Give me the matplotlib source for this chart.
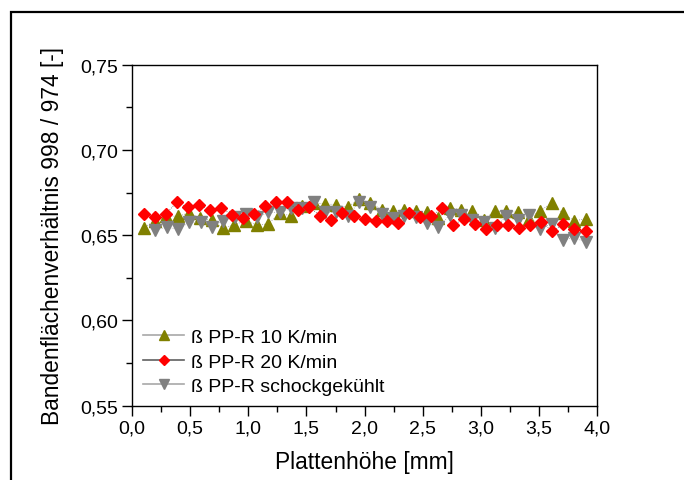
import numpy as np
import matplotlib
matplotlib.use("Agg")
from matplotlib import pyplot as plt
from matplotlib.lines import Line2D
from matplotlib.patches import Rectangle
from matplotlib.ticker import MultipleLocator, FuncFormatter

plt.rcParams['font.family'] = ['Liberation Sans', 'DejaVu Sans']

# data
x_10k = np.linspace(0.1, 3.9, 40)
y_10k = [0.6542, 0.6585, 0.6614, 0.6610, 0.6630, 0.6600, 0.6589, 0.6540, 0.6562, 0.6585,
         0.6560, 0.6566, 0.6628, 0.6614, 0.6673, 0.6689, 0.6683, 0.6679, 0.6663, 0.6712,
         0.6689, 0.6650, 0.6640, 0.6650, 0.6640, 0.6634, 0.6600, 0.6659, 0.6650, 0.6640,
         0.6591, 0.6640, 0.6640, 0.6634, 0.6595, 0.6644, 0.6687, 0.6628, 0.6585, 0.6595]

x_20k = np.linspace(0.1, 3.9, 41)
y_20k = [0.6624, 0.6605, 0.6624, 0.6693, 0.6663, 0.6679, 0.6648, 0.6659, 0.6620, 0.6599,
         0.6624, 0.6673, 0.6693, 0.6693, 0.6648, 0.6663, 0.6614, 0.6591, 0.6628, 0.6610,
         0.6595, 0.6585, 0.6585, 0.6571, 0.6628, 0.6605, 0.6610, 0.6659, 0.6560, 0.6595,
         0.6566, 0.6536, 0.6562, 0.6562, 0.6542, 0.6560, 0.6579, 0.6522, 0.6566, 0.6536,
         0.6522]

x_schock = np.linspace(0.2, 3.9, 39)
y_schock = [0.6532, 0.6546, 0.6536, 0.6575, 0.6579, 0.6550, 0.6585, 0.6605, 0.6624, 0.6605,
            0.6634, 0.6634, 0.6657, 0.6657, 0.6696, 0.6634, 0.6634, 0.6614, 0.6693, 0.6664,
            0.6624, 0.6599, 0.6614, 0.6605, 0.6572, 0.6546, 0.6618, 0.6618, 0.6591, 0.6579,
            0.6540, 0.6612, 0.6587, 0.6620, 0.6538, 0.6567, 0.6472, 0.6486, 0.6460]

labels = ['ß PP-R 10 K/min', 'ß PP-R 20 K/min', 'ß PP-R schockgekühlt']

fig = plt.figure(figsize=(6.84, 4.81), dpi=100)
ax = fig.add_axes([0.193, 0.1545, 0.680, 0.709])

# dotted connecting lines + markers
ax.plot(x_10k, y_10k, ls=':', lw=0.6, color='#909090', marker='^', ms=8,
        mfc='#808000', mec='#808000', zorder=3)
ax.plot(x_20k, y_20k, ls=':', lw=0.6, color='#606060', marker='D', ms=6.5,
        mfc='#ff0000', mec='#ff0000', zorder=4)
ax.plot(x_schock, y_schock, ls=':', lw=0.6, color='#a0a0a0', marker='v', ms=8,
        mfc='#808080', mec='#808080', zorder=3)

ax.set_xlim(0, 4.0)
ax.set_ylim(0.55, 0.75)
ax.xaxis.set_major_locator(MultipleLocator(0.5))
ax.xaxis.set_minor_locator(MultipleLocator(0.25))
ax.yaxis.set_major_locator(MultipleLocator(0.05))
ax.yaxis.set_minor_locator(MultipleLocator(0.025))
ax.xaxis.set_major_formatter(FuncFormatter(lambda v, p: ('%.1f' % v).replace('.', ',')))
ax.yaxis.set_major_formatter(FuncFormatter(lambda v, p: ('%.2f' % v).replace('.', ',')))
ax.tick_params(which='major', direction='out', length=7, width=1, labelsize=14, pad=3)
ax.tick_params(which='minor', direction='out', length=4, width=1)
for s in ax.spines.values():
    s.set_linewidth(1)

ax.set_xlabel('Plattenhöhe [mm]', fontsize=16.4, labelpad=10)
ax.set_ylabel('Bandenflächenverhältnis 998 / 974 [-]', fontsize=16.4, labelpad=12)

handles = [
    Line2D([], [], color='#a8a8a8', lw=1.2, marker='^', ms=7, mfc='#808000', mec='#808000'),
    Line2D([], [], color='#606060', lw=1.2, marker='D', ms=5.5, mfc='#ff0000', mec='#ff0000'),
    Line2D([], [], color='#a8a8a8', lw=1.2, marker='v', ms=7, mfc='#808080', mec='#808080'),
]
ax.legend(handles, labels, loc='lower left', bbox_to_anchor=(0.024, 0.031), frameon=False,
          fontsize=14, handlelength=2.1, handletextpad=0.35, labelspacing=0.35,
          borderpad=0, borderaxespad=0)

# outer frame (cut off at right and bottom)
fig.patches.append(Rectangle((11 / 684, -0.1), 1.2, 1 - 13 / 481 + 0.1,
                             transform=fig.transFigure, fill=False, lw=1.6,
                             edgecolor='black', zorder=10))

fig.savefig('out.png', dpi=100)
